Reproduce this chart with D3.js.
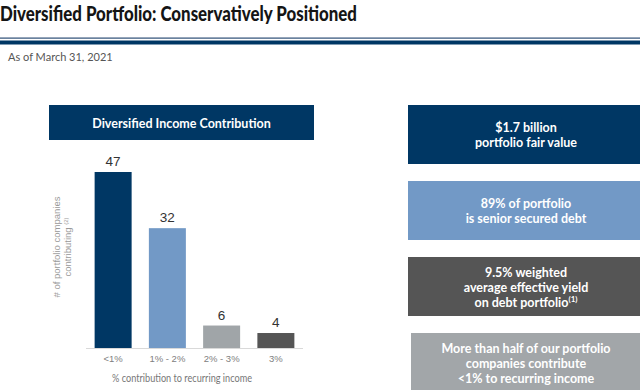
<!DOCTYPE html>
<html lang="en">
<head>
  <meta charset="UTF-8" />
  <title>Diversified Portfolio</title>
  <script src="https://d3js.org/d3.v7.min.js"></script>
  <style>
    body { margin: 0; padding: 0; background: #fff; }
    svg { display: block; }
  </style>
</head>
<body>
  <div id="chart"></div>
  <script>
    const categories = ['<1%', '1% - 2%', '2% - 3%', '3%'];
    const counts = [47, 32, 6, 4];
    const barColors = ['#003764', '#7299c6', '#a0a5a8', '#555555'];

    const boxLines = [
      ['$1.7 billion', 'portfolio fair value'],
      ['89% of portfolio', 'is senior secured debt'],
      ['9.5% weighted', 'average effective yield', 'on debt portfolio'],
      ['More than half of our portfolio', 'companies contribute', '<1% to recurring income']
    ];
    const boxColors = ['#003764', '#7299c6', '#555555', '#a2a6a9'];

    const W = 640, H = 390;
    const svg = d3.select('#chart').append('svg')
      .attr('width', W).attr('height', H);

    // header
    svg.append('text')
      .attr('x', 0).attr('y', 20.5)
      .attr('font-family', 'Lato')
      .attr('font-weight', 900)
      .attr('font-size', 21.5)
      .attr('fill', '#151515')
      .attr('textLength', 357)
      .attr('lengthAdjust', 'spacingAndGlyphs')
      .text('Diversified Portfolio: Conservatively Positioned');

    svg.append('rect').attr('x', 0).attr('y', 37.5).attr('width', W).attr('height', 1.2).attr('fill', '#2c4d75');
    svg.append('rect').attr('x', 0).attr('y', 40.5).attr('width', W).attr('height', 4).attr('fill', '#003764');

    svg.append('text')
      .attr('x', 8).attr('y', 61)
      .attr('font-family', 'Lato')
      .attr('font-size', 11)
      .attr('fill', '#555')
      .text('As of March 31, 2021');

    // chart title box
    svg.append('rect')
      .attr('x', 49).attr('y', 105).attr('width', 265).attr('height', 35)
      .attr('fill', '#003764');
    svg.append('text')
      .attr('x', 181.5).attr('y', 123.5)
      .attr('dy', '0.35em')
      .attr('text-anchor', 'middle')
      .attr('font-family', 'Lato')
      .attr('font-weight', 'bold')
      .attr('font-size', 12.5)
      .attr('fill', '#fff')
      .text('Diversified Income Contribution');

    // bars
    const x = d3.scaleBand().domain(categories).range([86, 303])
      .paddingInner(0.318).paddingOuter(0.159);
    const y = d3.scaleLinear().domain([0, 47]).range([348, 172]);

    svg.append('line')
      .attr('x1', 86).attr('x2', 303).attr('y1', 348.5).attr('y2', 348.5)
      .attr('stroke', '#d9d9d9').attr('stroke-width', 1);

    svg.selectAll('rect.bar')
      .data(counts)
      .join('rect')
      .attr('class', 'bar')
      .attr('x', (d, i) => x(categories[i]))
      .attr('width', x.bandwidth())
      .attr('y', d => y(d))
      .attr('height', d => y(0) - y(d))
      .attr('fill', (d, i) => barColors[i]);

    svg.selectAll('text.val')
      .data(counts)
      .join('text')
      .attr('class', 'val')
      .attr('x', (d, i) => x(categories[i]) + x.bandwidth() / 2)
      .attr('y', d => y(d) - 6)
      .attr('text-anchor', 'middle')
      .attr('font-family', 'Liberation Sans, Arial, sans-serif')
      .attr('font-size', 13.5)
      .attr('fill', '#333')
      .text(d => d);

    svg.selectAll('text.cat')
      .data(categories)
      .join('text')
      .attr('class', 'cat')
      .attr('x', d => x(d) + x.bandwidth() / 2)
      .attr('y', 361.5)
      .attr('text-anchor', 'middle')
      .attr('font-family', 'Liberation Sans, Arial, sans-serif')
      .attr('font-size', 9.5)
      .attr('fill', '#808080')
      .text(d => d);

    svg.append('text')
      .attr('x', 182).attr('y', 381.5)
      .attr('text-anchor', 'middle')
      .attr('font-family', 'Lato')
      .attr('font-size', 10.5)
      .attr('fill', '#777')
      .attr('textLength', 140)
      .attr('lengthAdjust', 'spacingAndGlyphs')
      .text('% contribution to recurring income');

    // y label
    const yl = svg.append('text')
      .attr('transform', 'translate(60,247) rotate(-90)')
      .attr('text-anchor', 'middle')
      .attr('font-family', 'Liberation Sans, Arial, sans-serif')
      .attr('font-size', 9.5)
      .attr('fill', '#999');
    yl.append('tspan').attr('x', 0).attr('dy', 0).text('# of portfolio companies');
    yl.append('tspan').attr('x', 0).attr('dy', 10.5).text('contributing ');
    yl.append('tspan').attr('font-size', 6).attr('dy', -3).text('(2)');

    // right boxes
    const boxTop = 105, boxStep = 76, boxH = 59;
    const boxes = svg.selectAll('g.box')
      .data(boxLines)
      .join('g')
      .attr('class', 'box')
      .attr('transform', (d, i) => `translate(0,${boxTop + i * boxStep})`);

    boxes.append('rect')
      .attr('x', (d, i) => i === 3 ? 411 : 408)
      .attr('y', 0)
      .attr('width', 240)
      .attr('height', boxH)
      .attr('fill', (d, i) => boxColors[i]);

    boxes.each(function(lines, i) {
      const g = d3.select(this);
      const lh = 15.2;
      const y0 = 30.5 - (lines.length - 1) * lh / 2;
      lines.forEach((s, k) => {
        const t = g.append('text')
          .attr('x', 526)
          .attr('y', y0 + k * lh)
          .attr('dy', '0.35em')
          .attr('text-anchor', 'middle')
          .attr('font-family', 'Lato')
          .attr('font-weight', 'bold')
          .attr('font-size', 12.5)
          .attr('fill', '#fff');
        t.append('tspan').text(s);
        if (i === 2 && k === 2) {
          t.append('tspan').attr('font-size', 8).attr('dy', -5).text('(1)');
        }
      });
    });
  </script>
</body>
</html>
